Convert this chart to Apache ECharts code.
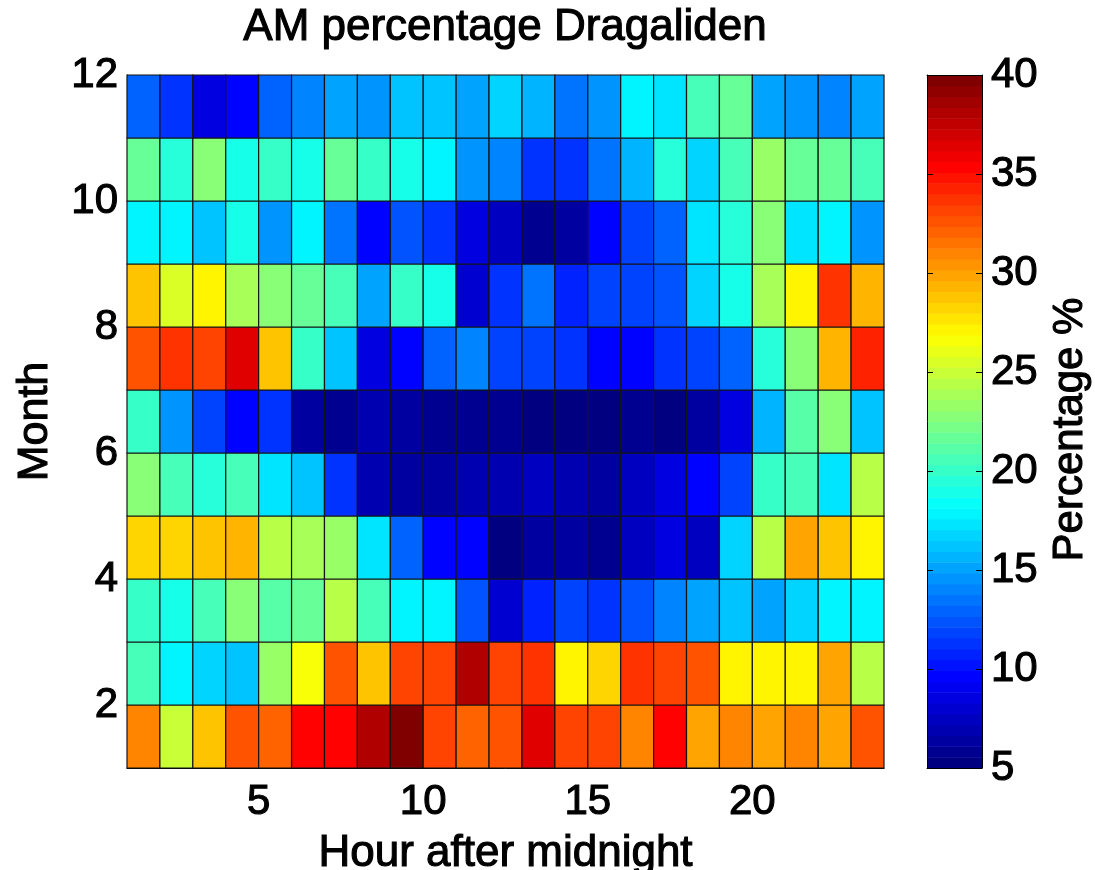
<!DOCTYPE html>
<html><head><meta charset="utf-8">
<script src="https://cdn.jsdelivr.net/npm/echarts@6/dist/echarts.min.js"></script>
<style>html,body{margin:0;padding:0;background:#fff}#c{width:1095px;height:870px}</style>
</head><body><div id="c"></div>
<script>
// Cell lower-left corners (pcolor style): hours 1..23, months 1..11
const hours = [1,2,3,4,5,6,7,8,9,10,11,12,13,14,15,16,17,18,19,20,21,22,23];
const months = [1,2,3,4,5,6,7,8,9,10,11];
const xTicks = [5,10,15,20];
const yTicks = [2,4,6,8,10,12];
const cbTicks = [5,10,15,20,25,30,35,40];

// Percentage values, one row per month band (bottom to top)
const month1  = [31.1,24.9,28.6,32.5,32.0,35.6,35.6,38.0,40.0,33.3,32.0,32.7,36.7,33.3,32.9,31.2,35.6,29.8,31.1,29.8,31.1,29.8,32.5];
const month2  = [20.5,18.1,17.0,16.4,23.4,26.5,32.5,28.6,33.3,33.3,38.0,32.9,33.8,27.4,28.0,33.8,32.9,32.5,27.4,27.4,27.4,29.8,24.5];
const month3  = [19.9,18.7,20.5,22.8,21.0,21.6,24.5,20.5,18.1,18.1,12.3,8.2,10.5,11.7,11.1,12.3,14.0,15.2,16.4,15.2,17.0,18.1,17.8];
const month4  = [28.0,28.0,29.0,29.4,24.5,24.0,23.4,17.5,12.9,9.9,9.4,5.3,6.5,6.5,5.9,7.6,8.8,7.6,17.0,24.5,29.8,28.6,27.4];
const month5  = [22.8,20.5,19.3,20.5,17.5,16.4,11.1,7.0,6.5,6.5,7.0,7.0,7.6,7.0,6.5,7.6,8.8,9.4,11.7,19.9,20.5,17.5,24.5];
const month6  = [19.9,14.6,11.7,9.9,11.1,6.5,5.6,7.0,6.5,5.9,5.6,5.6,5.3,5.0,5.3,5.6,5.3,6.5,8.8,15.8,21.0,23.0,16.4];
const month7  = [32.5,33.8,33.3,36.7,29.0,19.9,16.4,8.8,9.4,12.9,14.0,11.7,11.7,11.1,9.4,9.9,11.1,11.7,12.9,19.3,22.8,29.2,34.4];
const month8  = [29.0,25.5,27.0,24.0,22.8,21.6,20.5,15.2,19.9,18.7,8.0,11.1,13.5,10.5,11.7,11.7,12.3,17.0,18.7,24.0,27.4,33.8,29.5];
const month9  = [18.1,18.1,16.4,18.7,14.6,18.1,13.5,9.9,12.3,11.1,8.8,7.6,5.9,6.5,9.4,11.7,12.9,17.5,19.3,22.8,17.5,18.1,14.6];
const month10 = [21.6,19.3,22.8,18.7,19.9,18.7,21.6,19.9,18.7,18.1,14.6,14.0,11.1,11.1,13.5,15.8,19.3,17.0,20.5,23.4,21.6,21.6,20.5];
const month11 = [12.7,11.1,8.3,9.9,12.9,13.8,15.2,14.6,16.4,16.4,15.2,17.0,15.8,13.5,14.6,18.1,17.5,20.5,21.6,15.2,14.6,14.0,15.2];

const cMin = 5, cMax = 40, nColors = 64;

const rows = [month1,month2,month3,month4,month5,month6,month7,month8,month9,month10,month11];
const cells = [];
rows.forEach((r, j) => r.forEach((v, i) => cells.push([hours[i], months[j], v])));

// MATLAB jet(64) colormap
function clamp(v){return Math.max(0, Math.min(1, v));}
const jet = [];
for (let k = 0; k < nColors; k++) {
  const t = k / (nColors - 1);
  const r = clamp(1.5 - Math.abs(4*t - 3));
  const g = clamp(1.5 - Math.abs(4*t - 2));
  const b = clamp(1.5 - Math.abs(4*t - 1));
  jet.push('rgb(' + Math.round(r*255) + ',' + Math.round(g*255) + ',' + Math.round(b*255) + ')');
}
// Discrete colour pieces (like MATLAB's indexed colormap) and colorbar bands
const step = (cMax - cMin) / nColors;
const pieces = jet.map((c, k) => ({gte: cMin + k*step, lt: cMin + (k+1)*step, color: c}));
pieces[nColors-1].lte = cMax; delete pieces[nColors-1].lt;
const bands = jet.map((c, k) => [cMin + k*step, cMin + (k+1)*step, k]);

const FONT = '"Liberation Sans", Arial, Helvetica, sans-serif';
function ts(size){ return {fontFamily: FONT, fontSize: size, color: '#000', fontWeight: 'normal', textBorderColor: '#000', textBorderWidth: 1.1}; }

const chart = echarts.init(document.getElementById('c'), null, {renderer: 'canvas'});
chart.setOption({
  backgroundColor: '#fff',
  animation: false,
  title: {
    text: 'AM percentage Dragaliden',
    left: 500, top: 1, textAlign: 'center',
    textStyle: ts(44)
  },
  grid: [
    {left: 127, top: 75, width: 757, height: 693, outerBoundsMode: 'none', containLabel: false},
    {left: 927, top: 75, width: 55, height: 693, outerBoundsMode: 'none', containLabel: false}
  ],
  xAxis: [
    {
      gridIndex: 0, type: 'value', min: 1, max: 24,
      axisLine: {show: true, onZero: false, lineStyle: {color: '#000', width: 1}},
      axisTick: {show: true, inside: true, length: 7, customValues: xTicks, lineStyle: {color: '#000'}},
      axisLabel: Object.assign({customValues: xTicks, margin: 13}, ts(42)),
      splitLine: {show: false},
      name: 'Hour after midnight', nameLocation: 'middle', nameGap: 64,
      nameTextStyle: ts(44)
    },
    {
      gridIndex: 1, type: 'value', min: 0, max: 1, position: 'bottom', z: 10,
      axisLine: {show: true, onZero: false, lineStyle: {color: '#000', width: 1}},
      axisTick: {show: false}, axisLabel: {show: false}, splitLine: {show: false}
    },
    {
      gridIndex: 1, type: 'value', min: 0, max: 1, position: 'top', z: 10,
      axisLine: {show: true, onZero: false, lineStyle: {color: '#000', width: 1}},
      axisTick: {show: false}, axisLabel: {show: false}, splitLine: {show: false}
    }
  ],
  yAxis: [
    {
      gridIndex: 0, type: 'value', min: 1, max: 12,
      axisLine: {show: true, onZero: false, lineStyle: {color: '#000', width: 1}},
      axisTick: {show: true, inside: true, length: 7, customValues: yTicks, lineStyle: {color: '#000'}},
      axisLabel: Object.assign({customValues: yTicks, margin: 9}, ts(42)),
      splitLine: {show: false},
      name: 'Month', nameLocation: 'middle', nameGap: 70, nameRotate: 90,
      nameTextStyle: ts(43)
    },
    {
      gridIndex: 1, type: 'value', min: cMin, max: cMax, interval: 5, position: 'right', z: 10,
      axisLine: {show: true, onZero: false, lineStyle: {color: '#000', width: 1}},
      axisTick: {show: true, inside: true, length: 6, lineStyle: {color: '#000'}},
      axisLabel: Object.assign({margin: 9}, ts(42)),
      splitLine: {show: false},
      name: 'Percentage %', nameLocation: 'middle', nameGap: 67, nameRotate: 90,
      nameTextStyle: Object.assign({padding: [0, 16, 0, 0]}, ts(42))
    },
    {
      gridIndex: 1, type: 'value', min: cMin, max: cMax, interval: 5, position: 'left', z: 10,
      axisLine: {show: true, onZero: false, lineStyle: {color: '#000', width: 1}},
      axisTick: {show: true, inside: true, length: 6, lineStyle: {color: '#000'}},
      axisLabel: {show: false}, splitLine: {show: false}
    }
  ],
  visualMap: {
    type: 'piecewise', show: false, dimension: 2, seriesIndex: 0,
    pieces: pieces
  },
  series: [{
    type: 'custom',
    xAxisIndex: 0, yAxisIndex: 0,
    encode: {x: 0, y: 1},
    data: cells,
    renderItem: function (params, api) {
      const x = api.value(0), y = api.value(1);
      const p0 = api.coord([x, y + 1]);
      const p1 = api.coord([x + 1, y]);
      return {
        type: 'rect',
        shape: {x: p0[0], y: p0[1], width: p1[0] - p0[0], height: p1[1] - p0[1]},
        style: {fill: api.visual('color'), stroke: '#151515', lineWidth: 1.2}
      };
    }
  }, {
    type: 'custom',
    xAxisIndex: 1, yAxisIndex: 1,
    encode: {y: [0, 1]},
    data: bands,
    renderItem: function (params, api) {
      const lo = api.value(0), hi = api.value(1), k = api.value(2);
      const p0 = api.coord([0, hi]);
      const p1 = api.coord([1, lo]);
      return {
        type: 'rect',
        shape: {x: p0[0], y: p0[1], width: p1[0] - p0[0], height: p1[1] - p0[1] + 0.5},
        style: {fill: jet[k], stroke: null}
      };
    }
  }]
});
</script></body></html>
